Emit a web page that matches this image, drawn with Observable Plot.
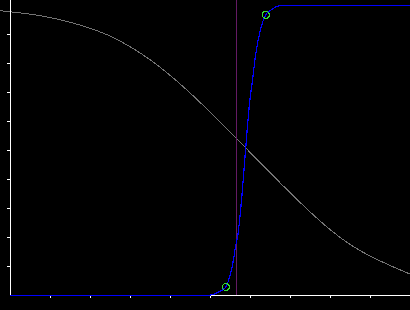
<!DOCTYPE html>
<html>
<head>
<meta charset="utf-8">
<script src="https://cdn.jsdelivr.net/npm/d3@7"></script>
<script src="https://cdn.jsdelivr.net/npm/@observablehq/plot@0.6"></script>
<style>
  html, body { margin: 0; padding: 0; background: #000; }
  #chart svg { display: block; shape-rendering: crispEdges; }
</style>
</head>
<body>
<div id="chart"></div>
<script>
// Grey decreasing curve
const greyX = [-0.25, 0, 0.5, 1.0, 1.5, 2.0, 2.5, 3.0, 3.5, 4.0, 4.5, 5.0, 5.5, 6.0, 6.5, 7.0, 7.5, 8.0, 8.5, 9.0, 9.5, 10];
const greyY = [0.982, 0.978, 0.970, 0.958, 0.942, 0.921, 0.894, 0.857, 0.812, 0.758, 0.697, 0.631, 0.562, 0.492, 0.422, 0.353, 0.287, 0.226, 0.175, 0.135, 0.103, 0.073];

// Blue steep rising curve
const blueX = [0, 4.875, 5.05, 5.2, 5.3825, 5.5, 5.575, 5.625, 5.675, 5.775, 5.875, 5.9825, 6.05, 6.125, 6.25, 6.3825, 6.5, 6.6675, 6.825, 10];
const blueY = [0, 0, 0.003, 0.012, 0.029, 0.076, 0.124, 0.169, 0.2, 0.328, 0.5, 0.672, 0.741, 0.828, 0.917, 0.968, 0.983, 0.997, 1.0, 1.0];

// Green markers on the blue curve
const markerX = [5.3825, 6.3825];
const markerY = [0.029, 0.968];

// Vertical purple rule
const ruleXValue = [5.6425];

// Tick positions
const xTicks = [1, 2, 3, 4, 5, 6, 7, 8, 9];
const yTicks = [0.1, 0.2, 0.3, 0.4, 0.5, 0.6, 0.7, 0.8, 0.9];

const grey = greyX.map((x, i) => ({x, y: greyY[i]}));
const blue = blueX.map((x, i) => ({x, y: blueY[i]}));
const markers = markerX.map((x, i) => ({x, y: markerY[i]}));

const chart = Plot.plot({
  width: 410,
  height: 310,
  marginLeft: 10,
  marginRight: 0,
  marginTop: 0,
  marginBottom: 15,
  style: {background: "#000", color: "#fff"},
  x: {domain: [0, 10]},
  y: {domain: [0, 295 / 290]},
  marks: [
    Plot.line(grey, {x: "x", y: "y", stroke: "#747474", strokeWidth: 1, curve: "monotone-x"}),
    Plot.ruleX([0], {stroke: "#fff", strokeWidth: 1}),
    Plot.ruleY([0], {stroke: "#fff", strokeWidth: 1}),
    Plot.axisX({ticks: xTicks, tickSize: 3, tickFormat: () => "", stroke: "#fff", label: null}),
    Plot.axisY({ticks: yTicks, tickSize: 3, tickFormat: () => "", stroke: "#fff", label: null}),
    Plot.ruleX(ruleXValue, {stroke: "#641a64", strokeWidth: 1}),
    Plot.line(blue, {x: "x", y: "y", stroke: "#0000ff", strokeWidth: 1.2, curve: "monotone-x"}),
    Plot.dot(markers, {x: "x", y: "y", r: 3.5, stroke: "#33dd33", strokeWidth: 1.3, fill: "none"})
  ]
});
document.getElementById("chart").append(chart);
</script>
</body>
</html>
